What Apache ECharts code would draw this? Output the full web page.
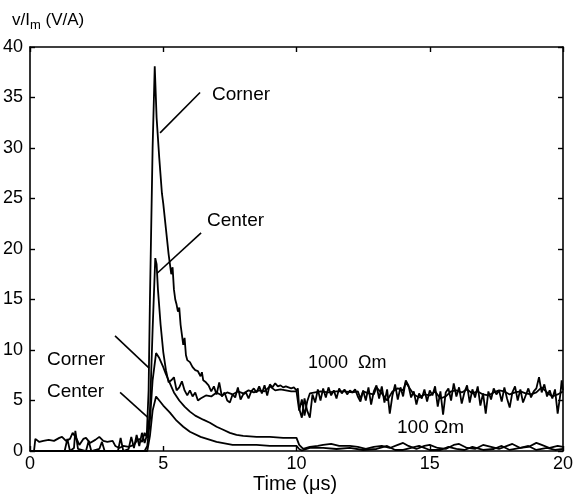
<!DOCTYPE html>
<html>
<head>
<meta charset="utf-8">
<script src="https://cdn.jsdelivr.net/npm/echarts@6/dist/echarts.min.js"></script>
<style>html,body{margin:0;padding:0;background:#fff}#c{width:579px;height:495px}</style>
</head>
<body>
<div id="c"></div>
<script>
var xTicks = [0, 5, 10, 15, 20];
var yTicks = [0, 5, 10, 15, 20, 25, 30, 35, 40];

var corner1000 = [[0,0],[0.5,0],[1.3,0],[1.4,1.2],[1.5,0],[1.65,0.3],[1.7,2.0],[1.8,0.2],[2.1,0],[2.2,1.0],[2.3,0],[2.6,0.2],[2.7,0.9],[2.8,0],[3.3,0],[3.4,1.3],[3.5,0],[3.7,0.2],[3.8,1.4],[3.9,0.3],[4.0,1.6],[4.1,0.5],[4.2,1.8],[4.3,0.8],[4.38,1.5],[4.45,6],[4.5,15],[4.6,30],[4.68,38.1],[4.75,33],[4.85,29],[4.95,25.5],[5.0,24.5],[5.1,22],[5.2,19.5],[5.25,18.5],[5.3,17.5],[5.35,18.2],[5.4,16],[5.45,15],[5.5,14.5],[5.55,13.8],[5.6,14.2],[5.65,12.5],[5.7,11.5],[5.75,10.5],[5.8,11.2],[5.85,9.5],[5.9,9],[6.0,8.8],[6.1,8.3],[6.2,8.0],[6.3,7.9],[6.4,7.4],[6.45,7.8],[6.5,7.0],[6.6,6.8],[6.7,6.5],[6.8,5.9],[6.9,6.4],[7.0,5.6],[7.1,6.8],[7.2,5.4],[7.3,5.8],[7.4,5.0],[7.5,4.8],[7.6,5.6],[7.7,5.3],[7.8,6.3],[7.9,5.1],[8.0,5.6],[8.1,5.8],[8.2,5.2],[8.3,5.9],[8.4,6.2],[8.5,5.8],[8.6,6.4],[8.7,5.7],[8.8,6.5],[8.9,5.5],[9.0,6.6],[9.1,6.3],[9.2,6.7],[9.3,6.4],[9.4,6.5],[9.5,6.3],[9.6,6.4],[9.7,6.3],[9.8,6.2],[9.9,6.3],[10.0,6.0],[10.05,6.2],[10.1,4.2],[10.2,3.3],[10.3,5.2],[10.4,4.0],[10.5,3.3],[10.6,5.6],[10.7,4.8],[10.8,6.1],[10.9,5.0],[11.0,6.2],[11.1,5.3],[11.2,6.3],[11.3,5.5],[11.4,6.0],[11.5,5.2],[11.6,6.2],[11.7,5.7],[11.8,6.1],[11.9,5.6],[12.0,6.0],[12.1,5.8],[12.2,6.1],[12.3,5.4],[12.4,4.9],[12.5,6.0],[12.6,5.0],[12.7,6.3],[12.8,4.6],[12.9,5.9],[13.0,6.5],[13.1,5.2],[13.2,6.4],[13.3,4.8],[13.4,6.1],[13.5,3.7],[13.6,5.5],[13.7,6.6],[13.8,5.1],[13.9,6.3],[14.0,5.4],[14.1,7.0],[14.2,6.5],[14.3,5.3],[14.4,5.9],[14.5,4.6],[14.6,5.7],[14.7,5.2],[14.8,6.1],[14.9,4.9],[15.0,6.0],[15.1,5.5],[15.2,6.4],[15.3,4.4],[15.4,5.9],[15.5,3.6],[15.6,5.8],[15.7,6.2],[15.8,5.0],[15.9,6.7],[16.0,5.4],[16.1,6.3],[16.2,4.7],[16.3,5.8],[16.4,6.5],[16.5,4.8],[16.6,6.1],[16.7,5.3],[16.8,6.4],[16.9,4.5],[17.0,5.7],[17.1,3.7],[17.2,5.9],[17.3,5.1],[17.4,6.2],[17.5,5.6],[17.6,6.0],[17.7,4.9],[17.8,6.3],[17.9,5.2],[18.0,4.3],[18.1,5.8],[18.2,6.4],[18.3,5.0],[18.4,6.1],[18.5,4.8],[18.6,5.5],[18.7,6.2],[18.8,5.3],[18.9,5.9],[19.0,6.2],[19.1,7.3],[19.2,5.8],[19.3,6.6],[19.4,5.4],[19.5,6.0],[19.6,5.2],[19.7,6.1],[19.8,3.7],[19.9,5.6],[19.95,7.0],[20.0,6.0]];

var center1000 = [[0,0],[0.15,0],[0.2,1.2],[0.35,0.9],[0.5,1.0],[0.7,1.1],[0.9,1.0],[1.1,1.3],[1.2,1.4],[1.35,1.0],[1.5,1.2],[1.6,1.8],[1.75,1.2],[1.85,0.6],[2.0,1.2],[2.1,1.3],[2.25,0.8],[2.45,1.1],[2.6,1.4],[2.75,1.0],[2.9,0.9],[3.1,1.0],[3.2,0.5],[3.35,0.3],[3.5,0.5],[3.7,0.4],[3.9,0.6],[4.0,1.0],[4.1,1.2],[4.2,0.9],[4.3,1.8],[4.4,1.3],[4.5,4],[4.6,12],[4.7,19.1],[4.75,18.5],[4.8,16],[4.9,12.5],[5.0,9.8],[5.1,8.0],[5.2,6.8],[5.3,7.0],[5.4,7.3],[5.5,6.0],[5.6,6.3],[5.7,6.9],[5.8,6.0],[5.9,5.5],[6.0,6.0],[6.1,5.4],[6.2,5.8],[6.3,5.0],[6.4,5.2],[6.6,5.5],[6.8,5.4],[7.0,5.8],[7.2,5.5],[7.4,5.8],[7.6,5.6],[7.8,5.9],[8.0,5.7],[8.2,6.0],[8.4,5.8],[8.6,6.0],[8.8,5.9],[9.0,6.4],[9.2,6.0],[9.4,6.1],[9.6,6.0],[9.8,5.9],[10.0,5.9],[10.1,4.0],[10.2,5.1],[10.3,3.5],[10.4,4.9],[10.5,5.7],[10.7,5.8],[10.9,5.9],[11.2,5.8],[11.5,5.9],[11.8,5.9],[12.1,5.8],[12.3,5.9],[12.4,5.2],[12.5,5.9],[12.7,5.7],[12.9,5.6],[13.0,6.3],[13.2,5.7],[13.4,5.0],[13.6,5.9],[13.8,6.2],[14.0,6.0],[14.1,6.8],[14.25,6.2],[14.4,5.6],[14.6,5.3],[14.8,5.6],[15.0,5.5],[15.2,5.9],[15.4,5.2],[15.6,5.4],[15.8,5.9],[16.0,6.0],[16.2,5.8],[16.4,6.1],[16.6,5.7],[16.8,5.9],[17.0,5.6],[17.2,5.5],[17.4,5.8],[17.6,6.0],[17.8,5.9],[18.0,5.6],[18.2,5.8],[18.4,5.9],[18.6,5.7],[18.8,5.6],[19.0,5.8],[19.2,6.3],[19.4,5.8],[19.6,5.4],[19.8,5.6],[20.0,5.9]];

var corner100 = [[0,0],[4.3,0],[4.4,0.5],[4.5,3],[4.6,7],[4.73,9.7],[4.85,9.2],[5.0,8.3],[5.1,7.6],[5.25,6.7],[5.4,5.8],[5.6,5.0],[5.8,4.4],[6.0,3.9],[6.2,3.5],[6.5,3.1],[6.75,2.8],[7.0,2.4],[7.25,2.1],[7.5,1.8],[7.75,1.6],[8.0,1.5],[8.5,1.4],[9.0,1.4],[9.5,1.3],[10.0,1.3],[10.1,0.6],[10.25,0.2],[10.5,0.4],[10.8,0.5],[11.0,0.6],[11.3,0.7],[11.6,0.5],[12.0,0.5],[12.3,0.4],[12.6,0.2],[12.9,0.4],[13.2,0.5],[13.5,0.3],[13.8,0.6],[14.0,0.8],[14.2,0.5],[14.5,0.2],[14.8,0.5],[15.0,0.6],[15.3,0.3],[15.6,0.2],[15.9,0.6],[16.1,0.7],[16.4,0.3],[16.7,0.2],[17.0,0.6],[17.3,0.4],[17.6,0.2],[17.9,0.5],[18.1,0.7],[18.4,0.3],[18.7,0.4],[19.0,0.8],[19.2,0.6],[19.5,0.3],[19.8,0.5],[20.0,0.4]];

var center100 = [[0,0],[4.4,0],[4.5,1.5],[4.6,4],[4.73,5.4],[4.85,5.0],[5.0,4.5],[5.25,3.8],[5.5,3.0],[5.75,2.4],[6.0,1.9],[6.4,1.4],[7.0,0.9],[7.6,0.6],[8.5,0.6],[9.0,0.5],[10.0,0.5],[10.1,0.2],[10.2,0.05],[10.5,0.3],[11.0,0.3],[11.5,0.2],[12.0,0.3],[12.5,0.1],[13.0,0.2],[13.4,0.5],[13.7,0.1],[14.0,0.1],[14.3,0.3],[14.6,0.5],[15.0,0.1],[15.4,0.1],[15.7,0.4],[16.0,0.2],[16.3,0.1],[16.6,0.4],[17.0,0.1],[17.4,0.2],[17.7,0.5],[18.0,0.1],[18.4,0.3],[18.7,0.5],[19.0,0.1],[19.4,0.3],[19.7,0.1],[20.0,0.2]];

// leader lines (data coordinates): [from, to]
var leaders = [
  [[6.38, 35.5], [4.88, 31.5]],
  [[6.42, 21.6], [4.77, 17.6]],
  [[3.19, 11.4], [4.47, 8.2]],
  [[3.38, 5.8], [4.43, 3.3]]
];

var FONT = '"Liberation Sans", Arial, Helvetica, sans-serif';
var chart = echarts.init(document.getElementById('c'), null, {renderer: 'canvas'});

function axisBase(extra) {
  var a = {
    type: 'value', min: 0,
    axisLine: {show: true, onZero: false, lineStyle: {color: '#000', width: 1.6}},
    axisTick: {show: true, inside: true, length: 5, lineStyle: {color: '#000', width: 1.4}},
    splitLine: {show: false},
    axisLabel: {show: true, color: '#000', fontSize: 18, fontFamily: FONT}
  };
  for (var k in extra) a[k] = extra[k];
  return a;
}

function lineSeries(data, extra) {
  var s = {
    type: 'line', data: data, showSymbol: false, symbol: 'none',
    lineStyle: {color: '#000', width: 1.8},
    itemStyle: {color: '#000'},
    animation: false, silent: true, z: 3
  };
  for (var k in extra) s[k] = extra[k];
  return s;
}

var option = {
  backgroundColor: '#fff',
  animation: false,
  grid: {left: 30, right: 16, top: 47, bottom: 44, containLabel: false},
  xAxis: [
    axisBase({position: 'bottom', max: xTicks[xTicks.length-1], interval: 5,
      axisLabel: {show: true, color: '#000', fontSize: 18, fontFamily: FONT, margin: 4}}),
    axisBase({position: 'top', max: xTicks[xTicks.length-1], interval: 5, axisLabel: {show: false}})
  ],
  yAxis: [
    axisBase({position: 'left', max: yTicks[yTicks.length-1], interval: 5,
      axisLabel: {show: true, color: '#000', fontSize: 18, fontFamily: FONT, margin: 7}}),
    axisBase({position: 'right', max: yTicks[yTicks.length-1], interval: 5, axisLabel: {show: false}})
  ],
  series: [
    lineSeries(corner1000, {
      markLine: {
        silent: true, symbol: ['none', 'none'], animation: false,
        label: {show: false},
        lineStyle: {color: '#000', width: 1.6, type: 'solid'},
        data: leaders.map(function (l) { return [{coord: l[0]}, {coord: l[1]}]; })
      }
    }),
    lineSeries(center1000),
    lineSeries(corner100),
    lineSeries(center100)
  ],
  graphic: [
    {type: 'text', left: 12, top: 12, style: {text: '{a|v/I}{s|m}{a| (V/A)}', rich: {
      a: {fontSize: 17, fontFamily: FONT, fill: '#000'},
      s: {fontSize: 13, fontFamily: FONT, fill: '#000', padding: [9, 0, 0, 0]}}}},
    {type: 'text', left: 212, top: 85, style: {text: 'Corner', fontSize: 19, fontFamily: FONT, fill: '#000'}},
    {type: 'text', left: 207, top: 211, style: {text: 'Center', fontSize: 19, fontFamily: FONT, fill: '#000'}},
    {type: 'text', left: 47, top: 350, style: {text: 'Corner', fontSize: 19, fontFamily: FONT, fill: '#000'}},
    {type: 'text', left: 47, top: 382, style: {text: 'Center', fontSize: 19, fontFamily: FONT, fill: '#000'}},
    {type: 'text', left: 308, top: 354, style: {text: '1000  \u03A9m', fontSize: 18, fontFamily: FONT, fill: '#000'}},
    {type: 'text', left: 397, top: 418, style: {text: '100 \u03A9m', fontSize: 19, fontFamily: FONT, fill: '#000'}},
    {type: 'text', left: 253, top: 474, style: {text: 'Time (\u03BCs)', fontSize: 20, fontFamily: FONT, fill: '#000'}}
  ]
};
chart.setOption(option);
</script>
</body>
</html>
